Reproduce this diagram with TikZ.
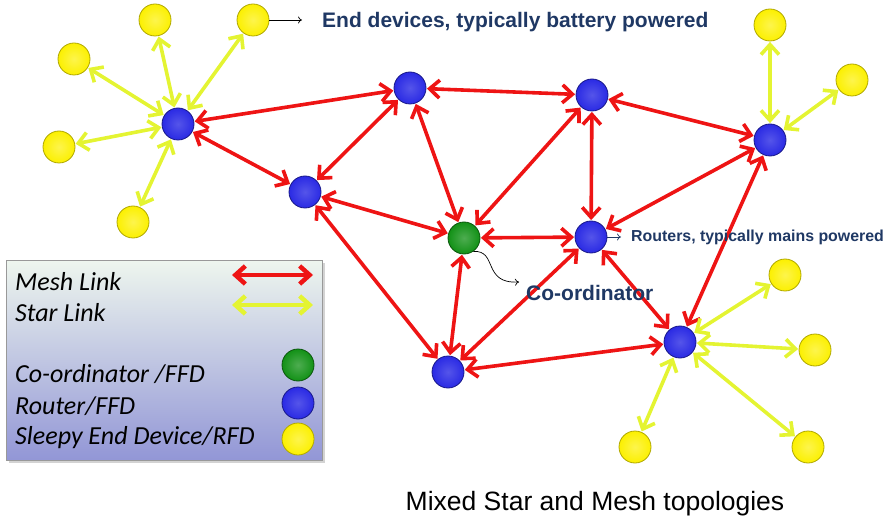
\documentclass[tikz,border=0pt]{standalone}
\usepackage{fontspec}
\setmainfont{Liberation Sans}
\newfontfamily\calfont{Carlito}
\usetikzlibrary{arrows.meta,shadows}
\definecolor{txtblue}{RGB}{31,56,100}
\definecolor{meshred}{RGB}{238,20,20}
\definecolor{starylw}{RGB}{228,244,50}
\definecolor{ballylw}{RGB}{252,240,0}
\definecolor{ballblue}{RGB}{42,42,228}
\definecolor{ballgreen}{RGB}{18,145,22}
\definecolor{legtop}{RGB}{238,246,238}
\definecolor{legbot}{RGB}{146,150,214}
\tikzset{
  ball/.style={circle, minimum size=32pt, inner sep=0pt, line width=0.8pt},
  enddev/.style={ball, draw=ballylw!70!black, inner color=ballylw!70!white, outer color=ballylw},
  router/.style={ball, draw=ballblue!60!black, inner color=ballblue!80!white, outer color=ballblue},
  coord/.style={ball, draw=ballgreen!60!black, inner color=ballgreen!75!white, outer color=ballgreen},
  tipb/.tip={Straight Barb[length=10pt,width=18pt]},
  mesh/.style={draw=meshred, line width=3.6pt, tipb-tipb, shorten <=0.5pt, shorten >=0.5pt},
  starlink/.style={draw=starylw, line width=3.6pt, tipb-tipb, shorten <=0.5pt, shorten >=0.5pt},
  note/.style={draw=black, line width=0.7pt, -{To[length=4pt,width=7pt]}},
  lbl/.style={text=txtblue, font=\bfseries, anchor=west, inner sep=0pt},
  legtxt/.style={anchor=west, inner sep=0pt, font=\calfont\itshape\fontsize{26}{28}\selectfont},
}
\begin{document}
\begin{tikzpicture}[x=1pt,y=-1pt]
\useasboundingbox (0,0) rectangle (890,526);
% legend box
\node[draw=gray!80, line width=0.6pt, top color=legtop, bottom color=legbot, drop shadow={opacity=0.35}, minimum width=316pt, minimum height=200pt, anchor=north west, inner sep=0pt] (legend) at (6,260) {};
\node[legtxt] (l1) at (15,282) {Mesh Link};
\node[legtxt] (l2) at (15,313) {Star Link};
\node[legtxt] (l3) at (15,374) {Co-ordinator /FFD};
\node[legtxt] (l4) at (15,406) {Router/FFD};
\node[legtxt] (l5) at (15,438) {Sleepy End Device/RFD};
\coordinate (la1) at (232,275);
\coordinate (la2) at (313,275);
\coordinate (lb1) at (232,305);
\coordinate (lb2) at (313,305);
\draw[mesh, line width=4.5pt, shorten <=0pt, shorten >=0pt] (la1) -- (la2);
\draw[starlink, line width=4.5pt, shorten <=0pt, shorten >=0pt] (lb1) -- (lb2);
\node[coord] (lg) at (298,365) {};
\node[router] (lr) at (298,403) {};
\node[enddev] (ly) at (298,439) {};

% routers and coordinator
\node[router] (B1) at (178,124) {};
\node[router] (B2) at (305,192) {};
\node[router] (B3) at (410,88) {};
\node[router] (B4) at (592,95) {};
\node[router] (B5) at (770,140) {};
\node[router] (B6) at (591,237) {};
\node[router] (B7) at (448,372) {};
\node[router] (B8) at (680,342) {};
\node[coord] (G) at (464,238) {};
% end devices
\node[enddev] (Y1) at (155,20) {};
\node[enddev] (Y2) at (253,20) {};
\node[enddev] (Y3) at (74,59) {};
\node[enddev] (Y4) at (59,147) {};
\node[enddev] (Y5) at (133,222) {};
\node[enddev] (Y6) at (770,25) {};
\node[enddev] (Y7) at (852,80) {};
\node[enddev] (Y8) at (785,275) {};
\node[enddev] (Y9) at (815,350) {};
\node[enddev] (Y10) at (635,447) {};
\node[enddev] (Y11) at (808,447) {};

% mesh links
\foreach \a/\b in {B1/B3, B1/B2, B2/B3, B2/G, B2/B7, B3/G, B3/B4, B4/B6, B4/B5, B4/G, G/B6, G/B7, B5/B6, B5/B8, B6/B8, B6/B7, B7/B8}
  \draw[mesh] (\a) -- (\b);
% star links
\foreach \a/\b in {B1/Y1, B1/Y2, B1/Y3, B1/Y4, B1/Y5, B5/Y6, B5/Y7, B8/Y8, B8/Y9, B8/Y10, B8/Y11}
  \draw[starlink] (\a) -- (\b);

% annotations
\coordinate (e1) at (302,20);
\draw[note] (Y2) -- (e1);
\node[lbl, font=\bfseries\fontsize{21}{24}\selectfont] (tEnd) at (322,22) {End devices, typically battery powered};
\coordinate (r1) at (621,237);
\draw[note, draw=txtblue] (B6.east) -- (r1);
\node[lbl, font=\bfseries\fontsize{15.9}{18}\selectfont] (tRout) at (631,237) {Routers, typically mains powered};
\coordinate (c1) at (519,282);
\draw[note] (G.-55) .. controls (498,250) and (482,284) .. (c1);
\node[lbl, font=\bfseries\fontsize{21}{24}\selectfont] (tCo) at (526,293) {Co-ordinator};

\node[inner sep=0pt, font=\fontsize{26.5}{30}\selectfont] (cap) at (595,504) {Mixed Star and Mesh topologies};
\end{tikzpicture}
\end{document}
